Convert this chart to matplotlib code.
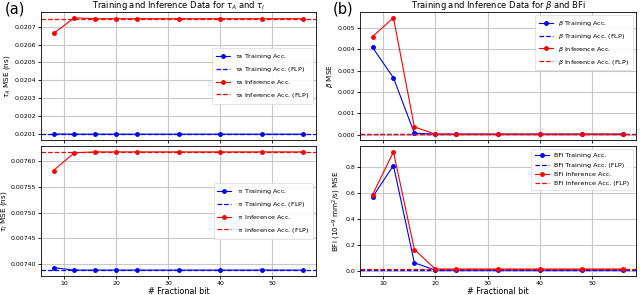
import numpy as np
import matplotlib
matplotlib.use("Agg")
import matplotlib.pyplot as plt

# fractional bits
bits = [8, 12, 16, 20, 24, 32, 40, 48, 56]

# tau_A (ns)
tauA_train = [0.020101, 0.020100, 0.020100, 0.020100, 0.020100, 0.020100, 0.020100, 0.020100, 0.020100]
tauA_infer = [0.020662, 0.020749, 0.020744, 0.020744, 0.020744, 0.020744, 0.020744, 0.020744, 0.020744]
tauA_train_flp = 0.020100
tauA_infer_flp = 0.020744

# tau_I (ns)
tauI_train = [0.0073936, 0.007389, 0.007389, 0.007389, 0.007389, 0.007389, 0.007389, 0.007389, 0.007389]
tauI_infer = [0.007581, 0.0076154, 0.007617, 0.007617, 0.007617, 0.007617, 0.007617, 0.007617, 0.007617]
tauI_train_flp = 0.007389
tauI_infer_flp = 0.007617

# beta
beta_train = [0.004077, 0.00266, 0.000077, 0.00003, 0.00003, 0.00003, 0.00003, 0.00003, 0.00003]
beta_infer = [0.004585, 0.00546, 0.00037, 0.00003, 0.00003, 0.00003, 0.00003, 0.00003, 0.00003]
beta_train_flp = 0.00005
beta_infer_flp = 0.00005

# BFi
bfi_train = [0.569, 0.813, 0.0615, 0.005, 0.005, 0.005, 0.005, 0.005, 0.005]
bfi_infer = [0.587, 0.918, 0.164, 0.013, 0.013, 0.013, 0.013, 0.013, 0.013]
bfi_train_flp = 0.008
bfi_infer_flp = 0.011

plt.rcParams['font.size'] = 5
fig = plt.figure(figsize=(6.4, 2.95), dpi=100)

W, H = 640, 295
def box(x0, y0, x1, y1):
    return [x0 / W, 1 - y1 / H, (x1 - x0) / W, (y1 - y0) / H]

ax_a1 = fig.add_axes(box(41, 12, 316, 140))
ax_a2 = fig.add_axes(box(41, 146, 316, 276), sharex=ax_a1)
ax_b1 = fig.add_axes(box(360, 12, 636, 140))
ax_b2 = fig.add_axes(box(360, 146, 636, 276), sharex=ax_b1)

def panel(ax, train, infer, tr_flp, in_flp, name, ylabel, loc):
    ax.plot(bits, train, 'o-', color='blue', lw=0.8, ms=2.5, label=f'{name} Training Acc.')
    ax.axhline(tr_flp, color='blue', ls='--', lw=0.9, label=f'{name} Training Acc. (FLP)')
    ax.plot(bits, infer, 'o-', color='red', lw=0.8, ms=2.5, label=f'{name} Inference Acc.')
    ax.axhline(in_flp, color='red', ls='--', lw=0.9, label=f'{name} Inference Acc. (FLP)')
    ax.set_ylabel(ylabel, fontsize=5.2, labelpad=1.5)
    ax.grid(True, color='#c8c8c8', lw=0.8)
    ax.tick_params(labelsize=4.5, length=2, pad=1.5, width=0.6)
    for s in ax.spines.values():
        s.set_linewidth(0.6)
    leg = ax.legend(loc=loc, fontsize=4.6, framealpha=0.9, borderpad=0.6,
                    handlelength=2.2, labelspacing=0.6)
    leg.get_frame().set_linewidth(0.4)

panel(ax_a1, tauA_train, tauA_infer, tauA_train_flp, tauA_infer_flp,
      r'$\tau_A$', r'$\tau_A$ MSE (ns)', 'center right')
panel(ax_a2, tauI_train, tauI_infer, tauI_train_flp, tauI_infer_flp,
      r'$\tau_I$', r'$\tau_I$ MSE (ns)', 'center right')
panel(ax_b1, beta_train, beta_infer, beta_train_flp, beta_infer_flp,
      r'$\beta$', r'$\beta$ MSE', 'upper right')
panel(ax_b2, bfi_train, bfi_infer, bfi_train_flp, bfi_infer_flp,
      'BFi', r'BFi (10$^{-9}$ mm$^2$/s) MSE', 'upper right')

ax_a1.set_yticks([0.0201, 0.0202, 0.0203, 0.0204, 0.0205, 0.0206, 0.0207])
ax_a1.set_yticklabels(['0.0201', '0.0202', '0.0203', '0.0204', '0.0205', '0.0206', '0.0207'])
ax_a2.set_yticks([0.00740, 0.00745, 0.00750, 0.00755, 0.00760])
ax_a2.set_yticklabels(['0.00740', '0.00745', '0.00750', '0.00755', '0.00760'])
ax_b1.set_yticks([0, 0.001, 0.002, 0.003, 0.004, 0.005])
ax_b1.set_yticklabels(['0.000', '0.001', '0.002', '0.003', '0.004', '0.005'])
ax_b2.set_yticks([0, 0.2, 0.4, 0.6, 0.8])

for ax in (ax_a1, ax_b1):
    ax.tick_params(labelbottom=False)
for ax in (ax_a2, ax_b2):
    ax.set_xticks([10, 20, 30, 40, 50])
    ax.set_xlabel('# Fractional bit', fontsize=5.8, labelpad=0.5)

ax_a1.set_title(r'Training and Inference Data for $\tau_A$ and $\tau_I$', fontsize=6.0, pad=1.2)
ax_b1.set_title(r'Training and Inference Data for $\beta$ and BFi', fontsize=6.0, pad=1.2)

fig.text(5 / W, 1 - 1 / H, '(a)', fontsize=10.5, va='top', ha='left')
fig.text(333 / W, 1 - 1 / H, '(b)', fontsize=10.5, va='top', ha='left')

fig.savefig('out.png', dpi=100)
